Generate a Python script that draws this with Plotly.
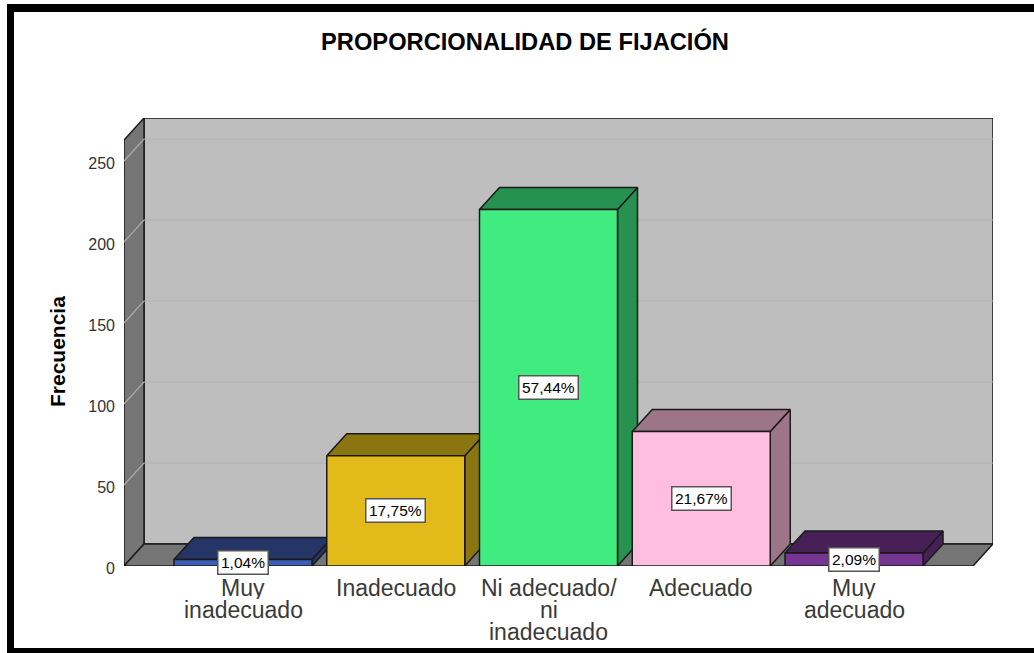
import plotly.graph_objects as go

# ---- data ----
categories = [["Muy", "inadecuado"], ["Inadecuado"], ["Ni adecuado/", "ni", "inadecuado"], ["Adecuado"], ["Muy", "adecuado"]]
counts = [4, 68, 220, 83, 8]
percent_labels = ["1,04%", "17,75%", "57,44%", "21,67%", "2,09%"]
y_ticks = [0, 50, 100, 150, 200, 250]
front_colors = ["#3b5eb4", "#e2bb1b", "#40ec80", "#ffbee0", "#773592"]
dark_colors = ["#253566", "#8b7511", "#269150", "#9d7589", "#482058"]

# ---- style / geometry ----
W, H = 1034, 653
PX_L, PX_R, PX_T, PX_B = 124, 993, 118, 566
PX_PER_CAT = 152.75
PX_PER_VAL = 1.62
CAT0_PX = 243
X0 = (PX_L - CAT0_PX) / PX_PER_CAT
X1 = (PX_R - CAT0_PX) / PX_PER_CAT
Y1 = (PX_B - PX_T) / PX_PER_VAL
DX = 20 / PX_PER_CAT
DY = 22 / PX_PER_VAL
BAR_W = 138 / PX_PER_CAT
EDGE = "#1a1a1a"
FONT = "Liberation Sans, Arial, sans-serif"

fig = go.Figure()


def poly(xs, ys, fill, lw=1.5, line=EDGE):
    fig.add_trace(go.Scatter(
        x=xs + xs[:1], y=ys + ys[:1], mode="lines", fill="toself", fillcolor=fill,
        line=dict(color=line, width=lw), hoverinfo="skip", showlegend=False, cliponaxis=False,
    ))


front_right = X1 - DX
# walls and floor
poly([X0 + DX, X1, X1, X0 + DX], [DY, DY, Y1, Y1], "#bebebe")
poly([X0, X0 + DX, X0 + DX, X0], [0, DY, Y1, Y1 - DY], "#757575")
poly([X0, front_right, X1, X0 + DX], [0, 0, DY, DY], "#757575")

# grid lines
for t in y_ticks[1:]:
    fig.add_trace(go.Scatter(x=[X0, X0 + DX], y=[t, t + DY], mode="lines",
                             line=dict(color="#a8a8a8", width=1.2), hoverinfo="skip",
                             showlegend=False, cliponaxis=False))
    fig.add_trace(go.Scatter(x=[X0 + DX, X1], y=[t + DY, t + DY], mode="lines",
                             line=dict(color="#b0b0b0", width=1.2), hoverinfo="skip",
                             showlegend=False, cliponaxis=False))

# bars
for i, v in enumerate(counts):
    l, r = i - BAR_W / 2, i + BAR_W / 2
    poly([r, r + DX, r + DX, r], [0, DY, v + DY, v], dark_colors[i])
    poly([l, r, r + DX, l + DX], [v, v, v + DY, v + DY], dark_colors[i])
    poly([l, r, r, l], [0, 0, v, v], front_colors[i])

annotations = []
for i, v in enumerate(counts):
    annotations.append(dict(
        x=i, y=v / 2, xref="x", yref="y", text=percent_labels[i], showarrow=False,
        font=dict(family=FONT, size=15.5, color="#000000"), bgcolor="#ffffff",
        bordercolor="#555555", borderwidth=1.5, borderpad=2.5,
    ))
    for k, line in enumerate(categories[i]):
        annotations.append(dict(
            x=i, y=0, xref="x", yref="y", text=line, showarrow=False, yanchor="top",
            yshift=-9 - 22 * k, height=22, font=dict(family=FONT, size=23, color="#3a3a3a"),
        ))

annotations.append(dict(
    x=57 / W, y=1 - 352 / H, xref="paper", yref="paper", text="<b>Frecuencia</b>",
    xanchor="center", yanchor="middle",
    textangle=-90, showarrow=False, font=dict(family=FONT, size=21, color="#000000"),
))

frame = [
    (7, 4, W, 12),
    (7, 4, 14, H),
    (7, 648, W, H),
]
shapes = [dict(type="rect", xref="paper", yref="paper", x0=a / W, x1=c / W, y0=1 - b / H, y1=1 - d / H,
               fillcolor="#000000", line=dict(width=0), layer="above") for a, b, c, d in frame]

fig.update_layout(
    width=W, height=H, margin=dict(l=0, r=0, t=0, b=0), autosize=False,
    paper_bgcolor="#ffffff", plot_bgcolor="rgba(0,0,0,0)", showlegend=False,
    title=dict(text="<b>PROPORCIONALIDAD DE FIJACIÓN</b>", x=525 / W, xanchor="center",
               y=1 - 42 / H, yanchor="middle", font=dict(family=FONT, size=23.7, color="#000000")),
    xaxis=dict(domain=[PX_L / W, PX_R / W], range=[X0, X1], showgrid=False, zeroline=False,
               showline=False, showticklabels=False, ticks="", automargin=False),
    yaxis=dict(domain=[1 - PX_B / H, 1 - PX_T / H], range=[0, Y1], showgrid=False, zeroline=False,
               showline=False, tickvals=y_ticks, ticks="", ticklabelstandoff=8, ticklabelshift=2,
               automargin=False, tickfont=dict(family=FONT, size=16, color="#333333")),
    annotations=annotations, shapes=shapes,
)

fig.write_html("out.html", config=dict(displayModeBar=False),
               post_script="document.body.style.margin='0';")
